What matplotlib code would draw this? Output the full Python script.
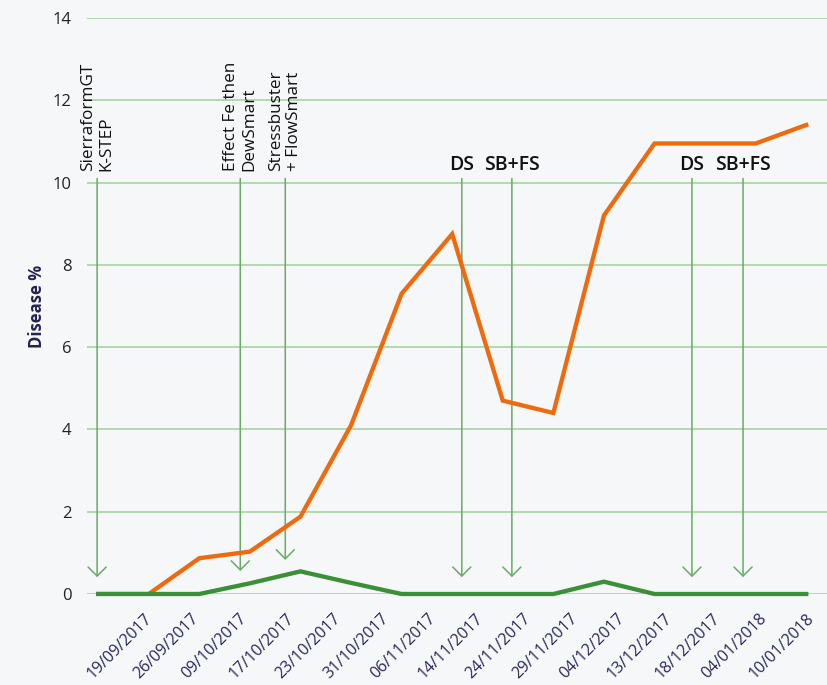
import numpy as np
import matplotlib.pyplot as plt

plt.rcParams['font.family'] = ['Open Sans', 'DejaVu Sans']

dates = ['19/09/2017', '26/09/2017', '09/10/2017', '17/10/2017', '23/10/2017',
         '31/10/2017', '06/11/2017', '14/11/2017', '24/11/2017', '29/11/2017',
         '04/12/2017', '13/12/2017', '18/12/2017', '04/01/2018', '10/01/2018']
orange_vals = [0, 0, 0.87, 1.03, 1.88, 4.1, 7.3, 8.75, 4.7, 4.4, 9.2, 10.95, 10.95, 10.95, 11.4]
green_vals = [0, 0, 0, 0.26, 0.55, 0.27, 0, 0, 0, 0, 0.3, 0, 0, 0, 0]

# treatment markers: label, position on the category axis, arrow tip value
treat_labels = ['SierraformGT\nK-STEP', 'Effect Fe then\nDewSmart', 'Stressbuster\n+ FlowSmart',
                'DS', 'SB+FS', 'DS', 'SB+FS']
treat_pos = [-0.02, 2.81, 3.70, 7.19, 8.18, 11.74, 12.75]
treat_tip = [0.41, 0.56, 0.83, 0.41, 0.41, 0.41, 0.41]
treat_rot = [90, 90, 90, 0, 0, 0, 0]

bg = '#f6f7f9'
fig = plt.figure(figsize=(8.27, 6.85), dpi=100, facecolor=bg)
ax = fig.add_axes([87/827, 1-594/685, 740/827, 576/685], facecolor=bg)

x = np.arange(len(dates))
ax.set_ylim(0, 14)
ax.set_xlim(-0.22, 14.41)
ax.set_yticks(np.arange(0, 15, 2))
ax.grid(axis='y', color='#acd6a6', linewidth=1.3)
ax.set_axisbelow(True)
for s in ax.spines.values():
    s.set_visible(False)

ax.plot(x, orange_vals, color='#ee6a0d', linewidth=3.1, solid_joinstyle='miter', zorder=3)
ax.plot(x, green_vals, color='#3a8f37', linewidth=3.1, solid_joinstyle='miter', zorder=4, clip_on=False)

for lab, p, tip, rot in zip(treat_labels, treat_pos, treat_tip, treat_rot):
    ax.annotate('', xy=(p, tip), xytext=(p, 10.1),
                arrowprops=dict(arrowstyle='->,head_length=0.65,head_width=0.65',
                                color='#68ab64', lw=1.1, shrinkA=0, shrinkB=0),
                zorder=2)
    if rot == 90:
        ax.text(p, 10.28, lab, rotation=90, ha='center', va='bottom', ma='left',
                fontsize=12.3, color='#111111', linespacing=1.15)
    else:
        ax.text(p, 10.18, lab, ha='center', va='bottom', fontsize=14,
                fontweight='semibold', color='#111111')

tick_pos = np.linspace(0.9, 14.0, len(dates))
ax.set_xticks(tick_pos)
ax.set_xticklabels(dates, rotation=45, ha='right', va='top', rotation_mode='anchor',
                   fontsize=11.5, color='#27285a')
ax.tick_params(axis='x', length=0, pad=12)
ax.tick_params(axis='y', length=0, pad=11, labelsize=12, labelcolor='#222222')

fig.text(37/827, 1-306/685, 'Disease %', rotation=90, ha='center', va='center',
         fontsize=12, fontweight='bold', color='#23234f')

fig.savefig('out.png', dpi=100, facecolor=bg)
